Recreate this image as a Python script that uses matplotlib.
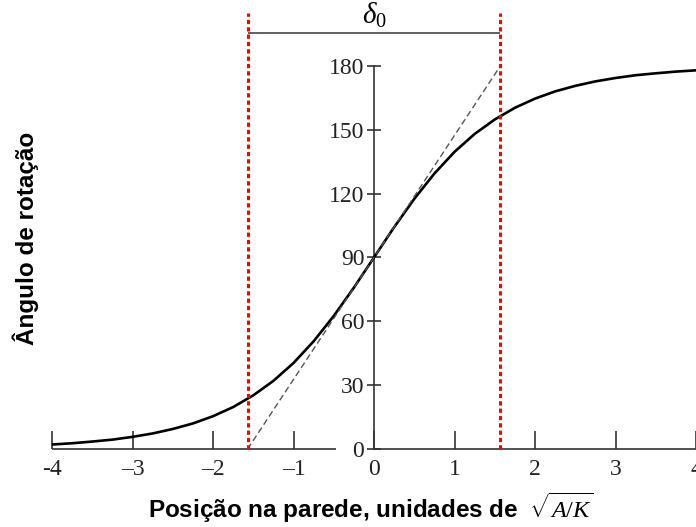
import numpy as np
import matplotlib
matplotlib.use('Agg')
import matplotlib.pyplot as plt

plt.rcParams['font.family'] = 'Liberation Sans'
plt.rcParams['mathtext.fontset'] = 'custom'
plt.rcParams['mathtext.rm'] = 'Liberation Serif'
plt.rcParams['mathtext.it'] = 'Liberation Serif:italic'

# domain wall profile
pos = [-4, -3.75, -3.5, -3.25, -3, -2.75, -2.5, -2.25, -2, -1.75, -1.5, -1.25,
       -1, -0.75, -0.5, -0.25, 0, 0.25, 0.5, 0.75, 1, 1.25, 1.5, 1.75, 2,
       2.25, 2.5, 2.75, 3, 3.25, 3.5, 3.75, 4]
angle = [2.1, 2.7, 3.5, 4.4, 5.7, 7.3, 9.4, 12.0, 15.4, 19.7, 25.2, 32.0,
         40.4, 50.6, 62.5, 75.8, 90, 104.2, 117.5, 129.4, 139.6, 148.0, 154.8,
         160.3, 164.6, 168.0, 170.6, 172.7, 174.3, 175.6, 176.5, 177.3, 177.9]

tangent_x = [-1.57, 1.57]
tangent_y = [0, 180]
wall_edges = [-1.57, 1.57]

xticks = [-4, -3, -2, -1, 0, 1, 2, 3, 4]
xtick_labels = ['-4', '\u20133', '\u20132', '\u20131', '0', '1', '2', '3', '4']
yticks = [0, 30, 60, 90, 120, 150, 180]

fig = plt.figure(figsize=(6.96, 5.27), dpi=100)
ax = fig.add_axes([52 / 696, 78 / 527, 644 / 696, 447 / 527])
ax.set_xlim(-4, 3.96)
ax.set_ylim(0, 210)

axis_col = '#333333'
for s in ['top', 'right', 'bottom']:
    ax.spines[s].set_visible(False)
ax.spines['left'].set_position(('data', 0))
ax.spines['left'].set_bounds(0, 180)
ax.spines['left'].set_color(axis_col)
ax.spines['left'].set_linewidth(1.2)
# x axis line, broken behind the "0" label
ax.hlines([0, 0], [-4, 0], [-0.47, 4], color=axis_col, lw=1.2, clip_on=False, zorder=3)

ax.set_xticks(xticks)
ax.set_xticklabels(xtick_labels)
ax.set_yticks(yticks)
ax.tick_params(axis='x', direction='in', length=13, width=1.2, color=axis_col,
               pad=7, labelsize=17, labelcolor='#222222', labelfontfamily='Liberation Serif')
ax.tick_params(axis='y', direction='inout', length=10, width=1.2, color=axis_col,
               pad=2, labelsize=17, labelcolor='#222222', labelfontfamily='Liberation Serif')

ax.plot(pos, angle, color='black', lw=1.9, zorder=4)
ax.plot(tangent_x, tangent_y, color='#555555', lw=1.0, linestyle=(0, (4.5, 2.5)), zorder=4)
ax.vlines(wall_edges, 0, 205, color='red', lw=2.2, linestyles=[(0, (1.4, 1.0))], zorder=5)

ax.hlines(195.5, wall_edges[0], wall_edges[1], color='#444444', lw=1.2)
ax.text(0, 197, r'$\delta_0$', ha='center', va='bottom', fontsize=21)

ax.set_ylabel('Ângulo de rotação', fontsize=17.5, fontweight='bold')
ax.yaxis.set_label_coords(-0.02, 0.472)
ax.set_xlabel(r'Posição na parede, unidades de $\ \sqrt{A/K}$', fontsize=17.5, fontweight='bold')
ax.xaxis.set_label_coords(0.496, -0.092)

fig.savefig('out.png', dpi=100)
